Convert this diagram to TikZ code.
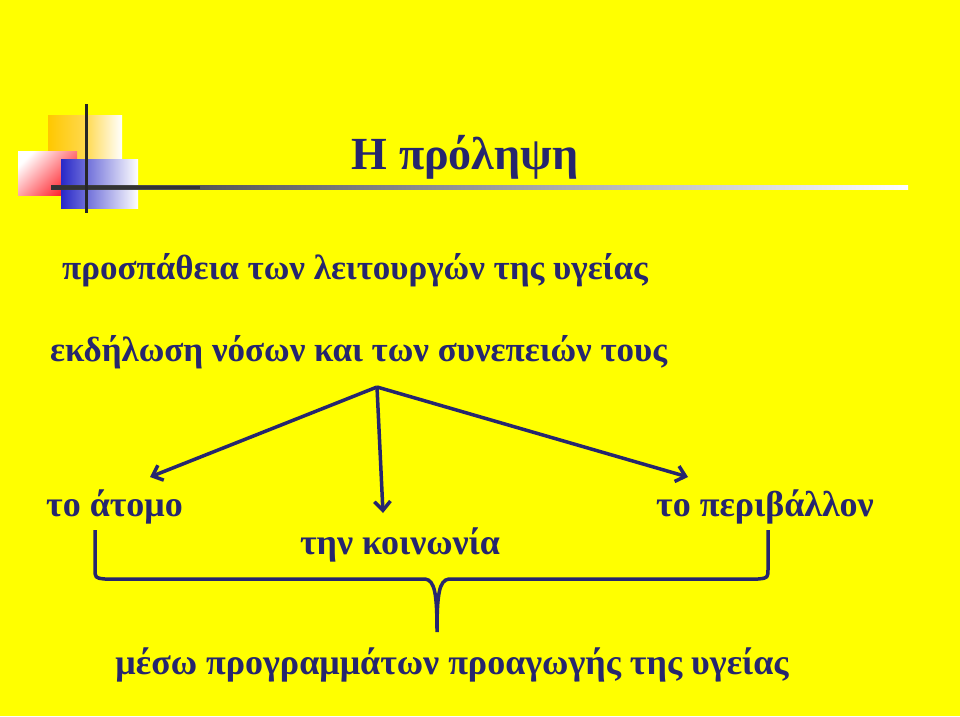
\documentclass[tikz,border=0pt]{standalone}
\usepackage{fontspec}
\setmainfont{Liberation Serif}
\definecolor{navy}{RGB}{38,38,110}
\definecolor{bg}{RGB}{255,255,0}
\definecolor{orng}{RGB}{255,200,0}
\definecolor{rd}{RGB}{255,30,40}
\definecolor{bl}{RGB}{40,40,200}
\tikzset{txt/.style={text=navy,inner sep=0pt,font=\fontsize{35}{38}\selectfont\bfseries},
 big/.style={text=navy,inner sep=0pt,font=\fontsize{36}{40}\selectfont\bfseries},
 arr/.style={draw=navy,line width=3.5pt,-{Straight Barb[length=9pt,width=16pt]}}}
\usetikzlibrary{arrows.meta}
\begin{document}
\begin{tikzpicture}[x=1pt,y=-1pt]
\fill[bg] (0,0) rectangle (960,716);
\useasboundingbox (0,0) rectangle (960,716);
% decoration
\shade[left color=orng,right color=white,middle color=orng!70!white] (48,115) rectangle (122,159);
\shade[left color=white,right color=rd,shading angle=45] (18,151) rectangle (77,195);
\shade[left color=bl,right color=white] (61,159) rectangle (138,208);
\shade[left color=black!80,right color=white] (51,185.5) rectangle (908,189);
\fill[black!80] (51,185.5) rectangle (200,189);
\fill[black!85] (84.5,104) rectangle (88,213);
\node[txt,font=\fontsize{46}{50}\selectfont\bfseries] (title) at (465,157) {Η πρόληψη};
\node[txt,anchor=west] (l1) at (62,270) {προσπάθεια των λειτουργών της υγείας};
\node[txt,anchor=west] (l2) at (50,352) {εκδήλωση νόσων και των συνεπειών τους};
\coordinate (apex) at (377,387);
\node[big,anchor=west] (a) at (46,507) {το άτομο};
\node[big] (k) at (400,545) {την κοινωνία};
\node[big] (p) at (765,507) {το περιβάλλον};
\draw[arr] (apex) -- (150,477);
\draw[arr] (apex) -- (383,513);
\draw[arr] (apex) -- (688,477);
\draw[navy,line width=3.5pt,line join=round] (95,530) -- (95,568) .. controls (95,578) .. (105,579) -- (425,579) .. controls (435,580) and (437,595) .. (437,632)
 (437,632) .. controls (437,595) and (439,580) .. (449,579) -- (758,579) .. controls (768,578) .. (768,568) -- (768,530);
\node[big] (m) at (452,665) {μέσω προγραμμάτων προαγωγής της υγείας};
\end{tikzpicture}
\end{document}
